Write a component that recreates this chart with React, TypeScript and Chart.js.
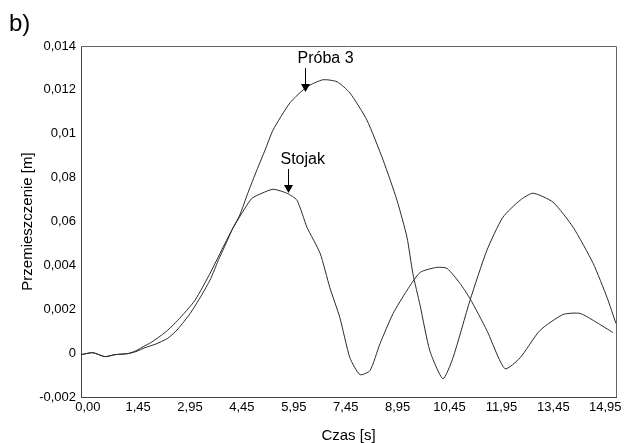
import React, { useEffect, useRef } from "react";
import { Chart, registerables } from "chart.js";

Chart.register(...registerables);

const FONT = "'Liberation Sans', Arial, sans-serif";

const xTickValues = [0, 1.45, 2.95, 4.45, 5.95, 7.45, 8.95, 10.45, 11.95, 13.45, 14.95];
const xTickLabels = ["0,00", "1,45", "2,95", "4,45", "5,95", "7,45", "8,95", "10,45", "11,95", "13,45", "14,95"];

const yTickValues = [-0.002, 0, 0.002, 0.004, 0.006, 0.008, 0.01, 0.012, 0.014];
const yTickLabels = ["-0,002", "0", "0,002", "0,004", "0,06", "0,08", "0,01", "0,012", "0,014"];

// Próba 3
const probaTime = [
  -0.2, 0.14, 0.49, 0.78, 1.16, 1.39, 1.65, 1.94, 2.31, 2.6, 2.95, 3.27, 3.55, 3.76, 3.99, 4.19, 4.39,
  4.62, 4.88, 5.12, 5.35, 5.84, 6.33, 6.79, 7.2, 7.57, 8.06, 8.53, 8.93, 9.22, 9.39, 9.6, 9.88,
  10.26, 10.55, 11.04, 11.53, 11.99, 12.49, 12.86, 13.44, 14.02, 14.6, 15.0, 15.26,
];
const probaValues = [
  -0.00007, 0.00002, -0.00016, -0.00007, -0.00002, 0.00007, 0.00025, 0.0004, 0.00068, 0.0011,
  0.0018, 0.0026, 0.0034, 0.0042, 0.0050, 0.0057, 0.0063, 0.00729, 0.00834, 0.00926, 0.01017, 0.01141,
  0.01214, 0.01246, 0.01237, 0.01186, 0.01063, 0.0088, 0.00697, 0.00528, 0.00363, 0.00217, 0.00011,
  -0.00117, -0.00021, 0.0024, 0.00469, 0.00619, 0.00697, 0.00729, 0.00688, 0.00574, 0.00409,
  0.00254, 0.00135,
];

// Stojak
const stojakTime = [
  -0.2, 0.14, 0.49, 0.78, 1.16, 1.39, 1.65, 1.82, 2.11, 2.31, 2.6, 3.09, 3.55, 3.96, 4.19, 4.54,
  4.74, 5.03, 5.35, 5.75, 6.04, 6.33, 6.71, 6.99, 7.28, 7.57, 7.86, 8.15, 8.44, 8.82, 9.22, 9.6,
  10.09, 10.38, 10.75, 11.04, 11.53, 12.05, 12.49, 13.06, 13.73, 14.22, 14.71, 15.17,
];
const stojakValues = [
  -0.00007, 0.00002, -0.00016, -0.00007, -0.00002, 0.00011, 0.00034, 0.00048, 0.0008, 0.00105,
  0.0015, 0.0024, 0.0037, 0.005, 0.0057, 0.00661, 0.00706, 0.00729, 0.00747, 0.00729,
  0.00697, 0.00574, 0.00455, 0.00299, 0.00162, -0.00021, -0.00098, -0.0008, 0.00043, 0.00181,
  0.00286, 0.00368, 0.00391, 0.00386, 0.00318, 0.00249, 0.00103, -0.00071, -0.00021, 0.00103,
  0.00176, 0.00181, 0.00139, 0.00094,
];

const annotationLabels = ["Próba 3", "Stojak"];
const annotationTimes = [6.27, 5.78];
const annotationValues = [0.0119, 0.0073];

const framePlugin = {
  id: "frameAndNotes",
  afterDraw(chart: any) {
    const { ctx, chartArea, scales } = chart;
    ctx.save();
    ctx.strokeStyle = "#666";
    ctx.lineWidth = 1;
    ctx.beginPath();
    ctx.moveTo(chartArea.left, chartArea.top + 0.5);
    ctx.lineTo(chartArea.right + 0.5, chartArea.top + 0.5);
    ctx.lineTo(chartArea.right + 0.5, chartArea.bottom);
    ctx.stroke();

    ctx.fillStyle = "#000";
    ctx.font = `24px ${FONT}`;
    ctx.textAlign = "left";
    ctx.textBaseline = "alphabetic";
    ctx.fillText("b)", 9, 31);

    ctx.font = `16px ${FONT}`;
    ctx.textBaseline = "middle";
    ctx.strokeStyle = "#000";
    ctx.fillStyle = "#000";
    annotationLabels.forEach((label, i) => {
      const px = Math.round(scales.x.getPixelForValue(annotationTimes[i])) + 0.5;
      const py = scales.y.getPixelForValue(annotationValues[i]);
      ctx.beginPath();
      ctx.moveTo(px, py - 24);
      ctx.lineTo(px, py - 7);
      ctx.stroke();
      ctx.beginPath();
      ctx.moveTo(px - 4.5, py - 8);
      ctx.lineTo(px + 4.5, py - 8);
      ctx.lineTo(px, py);
      ctx.closePath();
      ctx.fill();
      ctx.fillText(label, px - 8, py - 33);
    });
    ctx.restore();
  },
};

export default function App() {
  const canvasRef = useRef<HTMLCanvasElement | null>(null);

  useEffect(() => {
    if (!canvasRef.current) return;
    Chart.defaults.font.family = FONT;
    const toPoints = (t: number[], v: number[]) => t.map((x, i) => ({ x, y: v[i] }));
    const lineStyle = {
      borderColor: "#2a2a2a",
      borderWidth: 1,
      pointRadius: 0,
      tension: 0.2,
      fill: false,
    };
    const chart = new Chart(canvasRef.current, {
      type: "line",
      data: {
        datasets: [
          { label: "Próba 3", data: toPoints(probaTime, probaValues), ...lineStyle },
          { label: "Stojak", data: toPoints(stojakTime, stojakValues), ...lineStyle },
        ],
      },
      options: {
        animation: false,
        responsive: false,
        devicePixelRatio: 1,
        layout: { padding: { top: 46, right: 11, left: 0, bottom: 0 } },
        plugins: { legend: { display: false }, tooltip: { enabled: false } },
        scales: {
          x: {
            type: "linear",
            min: -0.2,
            max: 15.26,
            afterBuildTicks: (s: any) => {
              s.ticks = xTickValues.map((value) => ({ value }));
            },
            afterFit: (s: any) => {
              s.height = 46;
            },
            ticks: {
              callback: (_v: any, i: number) => xTickLabels[i],
              autoSkip: false,
              maxRotation: 0,
              padding: 3,
              color: "#000",
              font: { size: 13, family: FONT },
            },
            grid: { display: true, drawOnChartArea: false, drawTicks: false },
            border: { display: true, color: "#444", width: 1 },
            title: {
              display: true,
              text: "Czas [s]",
              color: "#000",
              font: { size: 15, family: FONT, lineHeight: 1 },
              padding: { top: 0, bottom: 0 },
            },
          },
          y: {
            type: "linear",
            min: -0.002,
            max: 0.014,
            afterBuildTicks: (s: any) => {
              s.ticks = yTickValues.map((value) => ({ value }));
            },
            afterFit: (s: any) => {
              s.width = 81;
            },
            ticks: {
              callback: (_v: any, i: number) => yTickLabels[i],
              autoSkip: false,
              padding: 5,
              color: "#000",
              font: { size: 13, family: FONT },
            },
            grid: { display: true, drawOnChartArea: false, drawTicks: false },
            border: { display: true, color: "#444", width: 1 },
            title: {
              display: true,
              text: "Przemieszczenie [m]",
              color: "#000",
              font: { size: 15, family: FONT, lineHeight: 1 },
              padding: { top: 20, bottom: 0 },
            },
          },
        },
      },
      plugins: [framePlugin],
    } as any);
    return () => chart.destroy();
  }, []);

  return (
    <div style={{ position: "fixed", left: 0, top: 0, width: 627, height: 443, background: "#fff" }}>
      <canvas ref={canvasRef} width={627} height={443} style={{ display: "block" }} />
    </div>
  );
}
